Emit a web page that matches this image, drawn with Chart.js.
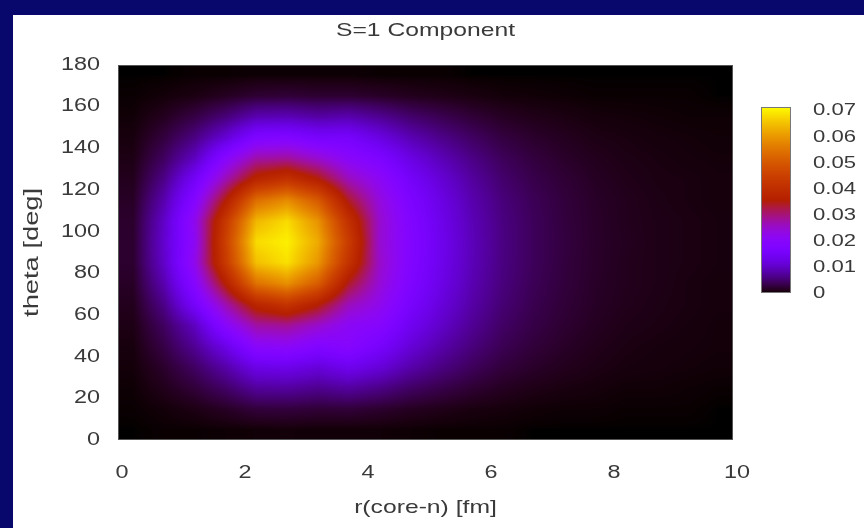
<!DOCTYPE html>
<html>
<head>
<meta charset="utf-8">
<script src="https://cdn.jsdelivr.net/npm/chart.js@4.4.1/dist/chart.umd.min.js"></script>
<style>
  body { margin: 0; background: #08086c; overflow: hidden; }
  #panel { position: absolute; left: 13px; top: 15px; width: 851px; height: 513px; background: #fff; }
</style>
</head>
<body>
<div id="panel"><canvas id="mapa" width="851" height="513"></canvas></div>
<script>
// grid cell centres
const rCenters = [0.25, 0.75, 1.25, 1.75, 2.25, 2.75, 3.25, 3.75, 4.25, 4.75,
                  5.25, 5.75, 6.25, 6.75, 7.25, 7.75, 8.25, 8.75, 9.25, 9.75];
const thetaCenters = [5, 15, 25, 35, 45, 55, 65, 75, 85, 95, 105, 115, 125, 135, 145, 155, 165, 175];

// density, one row per theta (5 .. 175)
const density = [
  [0.0000, 0.0001, 0.0001, 0.0002, 0.0003, 0.0004, 0.0003, 0.0003, 0.0003, 0.0002, 0.0001, 0.0001, 0.0001, 0.0000, 0.0000, 0.0000, 0.0000, 0.0000, 0.0000, 0.0000],
  [0.0001, 0.0004, 0.0009, 0.0017, 0.0027, 0.0028, 0.0025, 0.0026, 0.0021, 0.0015, 0.0011, 0.0007, 0.0005, 0.0003, 0.0002, 0.0002, 0.0001, 0.0001, 0.0001, 0.0000],
  [0.0002, 0.0012, 0.0026, 0.0047, 0.0075, 0.0077, 0.0068, 0.0077, 0.0064, 0.0046, 0.0034, 0.0023, 0.0015, 0.0010, 0.0007, 0.0005, 0.0003, 0.0003, 0.0002, 0.0001],
  [0.0004, 0.0020, 0.0045, 0.0082, 0.0129, 0.0133, 0.0117, 0.0137, 0.0116, 0.0084, 0.0061, 0.0042, 0.0027, 0.0019, 0.0013, 0.0009, 0.0006, 0.0005, 0.0004, 0.0003],
  [0.0006, 0.0032, 0.0071, 0.0129, 0.0204, 0.0210, 0.0184, 0.0197, 0.0160, 0.0115, 0.0084, 0.0058, 0.0038, 0.0026, 0.0018, 0.0012, 0.0008, 0.0006, 0.0005, 0.0004],
  [0.0009, 0.0044, 0.0097, 0.0200, 0.0278, 0.0287, 0.0252, 0.0210, 0.0196, 0.0141, 0.0103, 0.0071, 0.0046, 0.0032, 0.0022, 0.0015, 0.0010, 0.0008, 0.0006, 0.0004],
  [0.0013, 0.0064, 0.0155, 0.0270, 0.0380, 0.0420, 0.0360, 0.0265, 0.0224, 0.0162, 0.0118, 0.0081, 0.0053, 0.0036, 0.0025, 0.0017, 0.0012, 0.0009, 0.0007, 0.0005],
  [0.0017, 0.0086, 0.0195, 0.0360, 0.0545, 0.0590, 0.0510, 0.0340, 0.0245, 0.0177, 0.0129, 0.0088, 0.0058, 0.0039, 0.0027, 0.0018, 0.0013, 0.0010, 0.0007, 0.0005],
  [0.0021, 0.0103, 0.0225, 0.0435, 0.0650, 0.0685, 0.0600, 0.0415, 0.0255, 0.0184, 0.0134, 0.0092, 0.0060, 0.0041, 0.0028, 0.0019, 0.0013, 0.0010, 0.0008, 0.0006],
  [0.0021, 0.0107, 0.0215, 0.0450, 0.0680, 0.0701, 0.0625, 0.0440, 0.0250, 0.0186, 0.0136, 0.0093, 0.0061, 0.0041, 0.0029, 0.0019, 0.0014, 0.0010, 0.0008, 0.0006],
  [0.0020, 0.0102, 0.0222, 0.0430, 0.0640, 0.0680, 0.0595, 0.0410, 0.0252, 0.0182, 0.0133, 0.0091, 0.0060, 0.0041, 0.0028, 0.0019, 0.0013, 0.0010, 0.0008, 0.0006],
  [0.0017, 0.0085, 0.0190, 0.0355, 0.0540, 0.0585, 0.0505, 0.0340, 0.0239, 0.0173, 0.0126, 0.0086, 0.0057, 0.0039, 0.0027, 0.0018, 0.0013, 0.0009, 0.0007, 0.0005],
  [0.0013, 0.0064, 0.0150, 0.0268, 0.0378, 0.0415, 0.0358, 0.0265, 0.0214, 0.0154, 0.0113, 0.0077, 0.0050, 0.0034, 0.0024, 0.0016, 0.0011, 0.0008, 0.0007, 0.0005],
  [0.0009, 0.0044, 0.0097, 0.0198, 0.0276, 0.0285, 0.0250, 0.0205, 0.0175, 0.0126, 0.0092, 0.0063, 0.0041, 0.0028, 0.0019, 0.0013, 0.0009, 0.0007, 0.0005, 0.0004],
  [0.0006, 0.0028, 0.0061, 0.0112, 0.0177, 0.0182, 0.0160, 0.0159, 0.0124, 0.0089, 0.0065, 0.0045, 0.0029, 0.0020, 0.0014, 0.0009, 0.0007, 0.0005, 0.0004, 0.0003],
  [0.0003, 0.0014, 0.0031, 0.0056, 0.0088, 0.0091, 0.0080, 0.0086, 0.0070, 0.0050, 0.0037, 0.0025, 0.0016, 0.0011, 0.0008, 0.0005, 0.0004, 0.0003, 0.0002, 0.0002],
  [0.0001, 0.0004, 0.0008, 0.0015, 0.0023, 0.0025, 0.0022, 0.0022, 0.0018, 0.0013, 0.0010, 0.0007, 0.0004, 0.0003, 0.0002, 0.0001, 0.0001, 0.0001, 0.0001, 0.0000],
  [0.0000, 0.0000, 0.0001, 0.0001, 0.0002, 0.0002, 0.0002, 0.0002, 0.0001, 0.0001, 0.0001, 0.0000, 0.0000, 0.0000, 0.0000, 0.0000, 0.0000, 0.0000, 0.0000, 0.0000]
];

const xTicks = [0, 2, 4, 6, 8, 10];
const yTicks = [0, 20, 40, 60, 80, 100, 120, 140, 160, 180];
const cbTicks = [0, 0.01, 0.02, 0.03, 0.04, 0.05, 0.06, 0.07];
const cbMax = 0.0715;

const textColor = "#3a3a3a";
const ctx = document.querySelector("#mapa").getContext("2d");

// the original lettering is wide, stretch every label sideways
const stretch = 1.3;
const plainFillText = ctx.fillText.bind(ctx);
ctx.fillText = function (text, x, y) {
  ctx.save();
  ctx.translate(x, y);
  ctx.scale(stretch, 1);
  plainFillText(text, 0, 0);
  ctx.restore();
};

// gnuplot default pm3d palette (7,5,15)
function palette(v) {
  const t = Math.min(Math.max(v / cbMax, 0), 1);
  return [
    Math.round(Math.sqrt(t) * 255),
    Math.round(t * t * t * 255),
    Math.round(Math.max(0, Math.sin(2 * Math.PI * t)) * 255),
  ];
}

function sample(r, th) {
  const nx = rCenters.length, ny = thetaCenters.length;
  let fx = (r - rCenters[0]) / (rCenters[1] - rCenters[0]);
  let fy = (th - thetaCenters[0]) / (thetaCenters[1] - thetaCenters[0]);
  fx = Math.min(Math.max(fx, 0), nx - 1);
  fy = Math.min(Math.max(fy, 0), ny - 1);
  const i = Math.min(Math.floor(fx), nx - 2);
  const j = Math.min(Math.floor(fy), ny - 2);
  const ax = fx - i, ay = fy - j;
  const a = density[j][i] * (1 - ax) + density[j][i + 1] * ax;
  const b = density[j + 1][i] * (1 - ax) + density[j + 1][i + 1] * ax;
  return a * (1 - ay) + b * ay;
}

// fixed box sizes, no extra room for labels at the ends
function fixSize(prop, size) {
  return (s) => {
    s[prop] = size;
    s.paddingTop = 0;
    s.paddingBottom = 0;
    s.paddingLeft = 0;
    s.paddingRight = 0;
  };
}

const heatmap = {
  id: "heatmap",
  beforeDatasetsDraw(chart) {
    const { ctx, chartArea, scales } = chart;
    const left = Math.round(chartArea.left), top = Math.round(chartArea.top);
    const w = Math.round(chartArea.right) - left, h = Math.round(chartArea.bottom) - top;
    const img = ctx.createImageData(w, h);
    for (let py = 0; py < h; py++) {
      const th = scales.y.getValueForPixel(top + py + 0.5);
      for (let px = 0; px < w; px++) {
        const r = scales.x.getValueForPixel(left + px + 0.5);
        const c = palette(sample(r, th));
        const k = (py * w + px) * 4;
        img.data[k] = c[0];
        img.data[k + 1] = c[1];
        img.data[k + 2] = c[2];
        img.data[k + 3] = 255;
      }
    }
    ctx.putImageData(img, left, top);
    ctx.save();
    ctx.strokeStyle = "#555";
    ctx.lineWidth = 1;
    ctx.strokeRect(left + 0.5, top + 0.5, w - 1, h - 1);
    ctx.restore();
  },
  afterDraw(chart) {
    // colour box on the right
    const { ctx } = chart;
    const cb = chart.scales.cb;
    const x0 = cb.left + 28, barW = 30;
    const yBottom = Math.round(cb.getPixelForValue(0));
    const yTop = Math.round(cb.getPixelForValue(cbMax));
    ctx.save();
    for (let py = yTop; py < yBottom; py++) {
      const c = palette(cb.getValueForPixel(py + 0.5));
      ctx.fillStyle = "rgb(" + c[0] + "," + c[1] + "," + c[2] + ")";
      ctx.fillRect(x0, py, barW, 1);
    }
    ctx.strokeStyle = "#777";
    ctx.lineWidth = 1;
    ctx.strokeRect(x0 + 0.5, yTop + 0.5, barW - 1, yBottom - yTop - 1);
    ctx.restore();
  },
};

const cells = [];
for (let j = 0; j < thetaCenters.length; j++) {
  for (let i = 0; i < rCenters.length; i++) {
    cells.push({ x: rCenters[i], y: thetaCenters[j], v: density[j][i] });
  }
}

Chart.defaults.font.family = "'Liberation Sans', Arial, sans-serif";
Chart.defaults.color = textColor;

new Chart(ctx, {
  type: "scatter",
  data: {
    datasets: [
      {
        label: "S=1",
        data: cells,
        pointRadius: 0,
        pointHoverRadius: 0,
      },
    ],
  },
  options: {
    responsive: false,
    animation: false,
    events: [],
    layout: { padding: 0, autoPadding: false },
    plugins: {
      legend: { display: false },
      tooltip: { enabled: false },
      title: {
        display: true,
        text: "S=1 Component",
        fullSize: false,
        color: textColor,
        font: { size: 19, weight: "normal" },
        padding: { top: 4, bottom: 23 },
      },
    },
    scales: {
      x: {
        type: "linear",
        min: 0,
        max: 10,
        afterBuildTicks: (s) => { s.ticks = xTicks.map((v) => ({ value: v })); },
        afterFit: fixSize("height", 88),
        grid: { display: false, drawTicks: false },
        border: { display: false },
        ticks: { padding: 22, labelOffset: 4, maxRotation: 0, autoSkip: false, color: textColor, font: { size: 18 } },
        title: {
          display: true,
          text: "r(core-n) [fm]",
          color: textColor,
          font: { size: 19 },
          padding: { top: 0, bottom: 9 },
        },
      },
      y: {
        type: "linear",
        min: 0,
        max: 180,
        afterBuildTicks: (s) => { s.ticks = yTicks.map((v) => ({ value: v })); },
        afterFit: fixSize("width", 105),
        grid: { display: false, drawTicks: false },
        border: { display: false },
        ticks: { padding: 18, autoSkip: false, color: textColor, font: { size: 18 } },
        title: {
          display: true,
          text: "theta [deg]",
          color: textColor,
          font: { size: 21 },
          padding: { top: 7, bottom: 0 },
        },
      },
      cb: {
        type: "linear",
        position: "right",
        min: -0.0562,
        max: 0.0876,
        afterBuildTicks: (s) => { s.ticks = cbTicks.map((v) => ({ value: v })); },
        afterFit: fixSize("width", 131),
        grid: { display: false, drawTicks: false },
        border: { display: false },
        ticks: {
          padding: 80,
          autoSkip: false,
          color: textColor,
          font: { size: 17 },
          callback: (v) => (v === 0 ? "0" : v.toFixed(2)),
        },
      },
    },
  },
  plugins: [heatmap],
});
</script>
</body>
</html>
